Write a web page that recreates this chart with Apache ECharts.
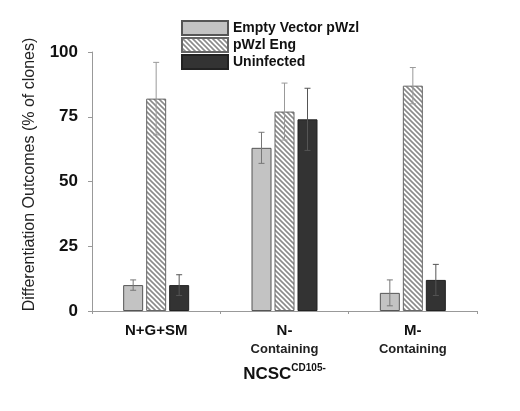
<!DOCTYPE html>
<html><head><meta charset="utf-8">
<script src="https://cdn.jsdelivr.net/npm/echarts@6/dist/echarts.min.js"></script>
<style>html,body{margin:0;padding:0;background:#fff}#c{width:520px;height:411px}</style>
</head><body><div id="c"></div>
<script>
const categories = ['N+G+SM', 'N-\nContaining', 'M-\nContaining'];
const seriesNames = ['Empty Vector pWzl', 'pWzl Eng', 'Uninfected'];
const emptyVector = [10, 63, 7];
const emptyVectorErr = [2, 6, 5];
const pwzlEng = [82, 77, 87];
const pwzlEngErr = [14, 11, 7];
const uninfected = [10, 74, 12];
const uninfectedErr = [4, 12, 6];
const yTicks = [0, 25, 50, 75, 100];

const FONT = 'Liberation Sans, Arial, sans-serif';

function hatch() {
  const s = 5;
  const c = document.createElement('canvas');
  c.width = s; c.height = s;
  const g = c.getContext('2d');
  g.fillStyle = '#fff'; g.fillRect(0, 0, s, s);
  g.strokeStyle = '#8a8a8a'; g.lineWidth = 1.6;
  g.beginPath();
  g.moveTo(-1, -1); g.lineTo(s + 1, s + 1);
  g.moveTo(-1, s - 1); g.lineTo(1, s + 1);
  g.moveTo(s - 1, -1); g.lineTo(s + 1, 1);
  g.stroke();
  return c;
}

const chart = echarts.init(document.getElementById('c'), null, {renderer: 'canvas'});
const values = [emptyVector, pwzlEng, uninfected];
const errs = [emptyVectorErr, pwzlEngErr, uninfectedErr];
const styles = [
  {color: '#c3c3c3', borderColor: '#555', borderWidth: 1},
  {color: {image: hatch(), repeat: 'repeat'}, borderColor: '#666', borderWidth: 1},
  {color: '#333333', borderColor: '#222', borderWidth: 1}
];
const errColors = ['#777', '#999', '#555'];
const BAR_W = 20, GAP = 3;

const series = [];
values.forEach((v, i) => {
  series.push({
    name: seriesNames[i], type: 'bar', data: v, barWidth: BAR_W, barGap: '15%',
    itemStyle: styles[i], z: 2
  });
});
values.forEach((v, i) => {
  series.push({
    type: 'custom', z: 5, silent: true,
    data: v.map((val, k) => [k, val - errs[i][k], val + errs[i][k]]),
    renderItem: function (params, api) {
      const k = api.value(0);
      const lo = api.coord([k, api.value(1)]);
      const hi = api.coord([k, api.value(2)]);
      const x = lo[0] + (i - 1) * (BAR_W + GAP);
      const cw = 3;
      const st = {stroke: errColors[i], lineWidth: 1};
      return {type: 'group', children: [
        {type: 'line', shape: {x1: x, y1: lo[1], x2: x, y2: hi[1]}, style: st},
        {type: 'line', shape: {x1: x - cw, y1: hi[1], x2: x + cw, y2: hi[1]}, style: st},
        {type: 'line', shape: {x1: x - cw, y1: lo[1], x2: x + cw, y2: lo[1]}, style: st}
      ]};
    }
  });
});

chart.setOption({
  animation: false,
  textStyle: {fontFamily: FONT},
  grid: {left: 92, right: 43, top: 52, bottom: 100},
  legend: {
    orient: 'vertical', left: 176, top: 15, itemWidth: 46, itemHeight: 14, itemGap: 1,
    icon: 'rect', data: seriesNames, selectedMode: false,
    textStyle: {fontFamily: FONT, fontSize: 14, fontWeight: 'bold', color: '#111', lineHeight: 16}
  },
  xAxis: {
    type: 'category', data: categories,
    axisLine: {lineStyle: {color: '#999'}},
    axisTick: {show: true, length: 3, lineStyle: {color: '#999'}},
    axisLabel: {
      margin: 11, interval: 0,
      formatter: function (val) {
        const p = val.split('\n');
        return p.length > 1 ? '{a|' + p[0] + '}\n{b|' + p[1] + '}' : '{a|' + p[0] + '}';
      },
      rich: {
        a: {fontFamily: FONT, fontSize: 15, fontWeight: 'bold', color: '#111', lineHeight: 18},
        b: {fontFamily: FONT, fontSize: 13, fontWeight: 'bold', color: '#222', lineHeight: 18}
      }
    },
    name: '{m|NCSC}{s|CD105-}', nameLocation: 'middle', nameGap: 52,
    nameTextStyle: {
      rich: {
        m: {fontFamily: FONT, fontSize: 17, fontWeight: 'bold', color: '#111', verticalAlign: 'bottom', lineHeight: 20},
        s: {fontFamily: FONT, fontSize: 10, fontWeight: 'bold', color: '#111', verticalAlign: 'top', lineHeight: 20, padding: [0, 0, 5, 0]}
      }
    }
  },
  yAxis: {
    type: 'value', min: 0, max: 100, interval: 25,
    axisLine: {show: true, lineStyle: {color: '#999'}},
    axisTick: {show: true, length: 4, lineStyle: {color: '#999'}},
    splitLine: {show: false},
    axisLabel: {
      margin: 14, fontFamily: FONT, fontSize: 17, fontWeight: 'bold', color: '#111',
      formatter: v => yTicks.includes(v) ? String(v) : ''
    },
    name: 'Differentiation Outcomes (% of clones)', nameLocation: 'middle', nameGap: 54,
    nameTextStyle: {fontFamily: FONT, fontSize: 16, color: '#222', padding: [0, 0, 0, 14]}
  },
  series: series
});
</script></body></html>
